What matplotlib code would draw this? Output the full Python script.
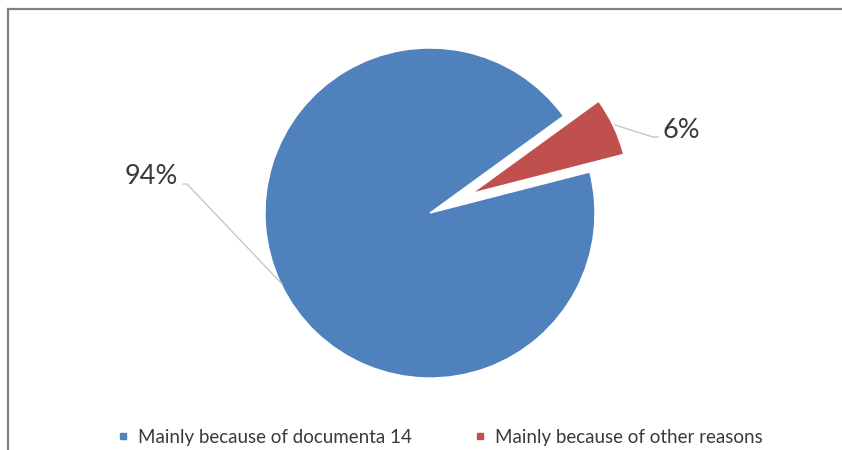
import matplotlib
matplotlib.use("Agg")
import matplotlib.pyplot as plt
from matplotlib.lines import Line2D

categories = ["Mainly because of documenta 14", "Mainly because of other reasons"]
shares = [94, 6]
pct_labels = ["94%", "6%"]
colors = ["#4F81BD", "#C0504D"]

W, H = 842, 450
fig = plt.figure(figsize=(W / 100, H / 100), dpi=100)
ax = fig.add_axes([0, 0, 1, 1])

R = 165
wedges, _ = ax.pie(
    shares,
    colors=colors,
    startangle=36,
    counterclock=True,
    radius=R,
    center=(430, 237),
    explode=[0, 46],
    wedgeprops=dict(edgecolor="white", linewidth=1.0),
    frame=True,
)
wedges[1].set_radius(157)
ax.set_xlim(0, W)
ax.set_ylim(0, H)
ax.axis("off")

txt_color = "#3a3a3a"
lead_color = "#c8c8c8"
# data labels with leader lines
ax.plot([282, 187, 183], [H - 284, H - 184, H - 184], color=lead_color, lw=1)
ax.text(151, H - 176, pct_labels[0], fontsize=19.5, color=txt_color,
        ha="center", va="center", family="Lato")
ax.plot([615, 653, 658], [H - 125, H - 137, H - 137], color=lead_color, lw=1)
ax.text(681, H - 131, pct_labels[1], fontsize=19.5, color=txt_color,
        ha="center", va="center", family="Lato")

# legend
handles = [Line2D([], [], marker="s", ls="none", markersize=5,
                  markerfacecolor=c, markeredgecolor=c) for c in colors]
fig.legend(handles, categories, loc="center", bbox_to_anchor=(440 / W, 1 - 437 / H),
           ncol=2, frameon=False, handlelength=0.6, handletextpad=0.5,
           columnspacing=3.3, prop=dict(family="Lato", size=13.5),
           labelcolor=txt_color)

# chart frame (top and left edges)
fig.add_artist(Line2D([8 / W, 1], [1 - 9 / H, 1 - 9 / H], transform=fig.transFigure,
                      color="#808080", lw=1.6))
fig.add_artist(Line2D([8 / W, 8 / W], [0, 1 - 9 / H], transform=fig.transFigure,
                      color="#808080", lw=1.6))

fig.savefig("out.png", dpi=100)
